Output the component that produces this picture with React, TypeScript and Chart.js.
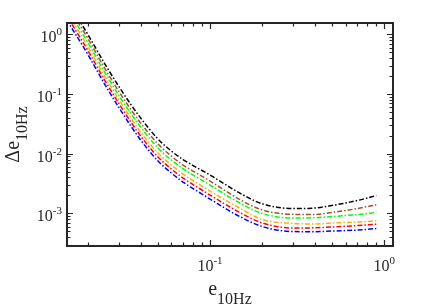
import React, { useEffect, useRef } from "react";
import { Chart, registerables } from "chart.js";

Chart.register(...registerables);

// e_10Hz sample positions
const xValues = [0.015, 0.02, 0.025, 0.03, 0.035, 0.04, 0.05, 0.06, 0.07, 0.08, 0.1, 0.15, 0.2, 0.3, 0.4, 0.5, 0.7, 0.9];

// Δe_10Hz values of each curve
const blackSeries = [3.827, 0.9734, 0.3144, 0.1336, 0.068, 0.03963, 0.01797, 0.0111, 0.007995, 0.006343, 0.004398, 0.002147, 0.001448, 0.001208, 0.001232, 0.001356, 0.001645, 0.001994];
const brownSeries = [3.28, 0.8343, 0.2643, 0.1101, 0.05606, 0.03267, 0.01483, 0.009152, 0.006467, 0.005131, 0.003489, 0.001677, 0.00114, 0.000966, 0.000958, 0.001035, 0.001208, 0.001398];
const greenSeries = [2.811, 0.715, 0.2265, 0.09438, 0.04805, 0.028, 0.0127, 0.00784, 0.00565, 0.004398, 0.00299, 0.001465, 0.000996, 0.000838, 0.000847, 0.000887, 0.000958, 0.001035];
const orangeSeries = [2.41, 0.6128, 0.1941, 0.08088, 0.0404, 0.0231, 0.01047, 0.006467, 0.004571, 0.003557, 0.002372, 0.001203, 0.00079, 0.000683, 0.000664, 0.000691, 0.000718, 0.000752];
const redSeries = [2.065, 0.5252, 0.1664, 0.06932, 0.03462, 0.01979, 0.008977, 0.005542, 0.003917, 0.003048, 0.002033, 0.001016, 0.000691, 0.000569, 0.000576, 0.000592, 0.000627, 0.000659];
const blueSeries = [1.769, 0.4501, 0.1426, 0.05942, 0.02967, 0.01696, 0.007693, 0.00475, 0.003357, 0.002613, 0.001742, 0.00087, 0.000603, 0.000497, 0.000494, 0.000507, 0.000527, 0.000559];

const seriesList = [blueSeries, redSeries, orangeSeries, greenSeries, brownSeries, blackSeries];
const seriesColors = ["#0000ff", "#ff0000", "#edb120", "#00ff00", "#a0522d", "#000000"];

// axis tick labels (10^exp)
const xMajorTicks = [0.1, 1];
const xTickExponents = ["-1", "0"];
const yMajorTicks = [0.001, 0.01, 0.1, 1];
const yTickExponents = ["-3", "-2", "-1", "0"];

const xTitleMain = "e";
const xTitleSub = "10Hz";
const yTitleMain = "Δe";
const yTitleSub = "10Hz";

const X_MIN = 0.01512;
const X_MAX = 1.122;
const Y_MIN = 2.85e-4;
const Y_MAX = 1.546;

const TEXT_COLOR = "#262626";
const FONT = "'Liberation Serif', 'Times New Roman', serif";

function minorValues(min: number, max: number): number[] {
  const out: number[] = [];
  const start = Math.floor(Math.log10(min)) - 1;
  const end = Math.ceil(Math.log10(max)) + 1;
  for (let e = start; e <= end; e++) {
    for (let k = 2; k <= 9; k++) {
      const v = k * Math.pow(10, e);
      if (v > min && v < max) out.push(v);
    }
  }
  return out;
}

const framePlugin = {
  id: "matlabFrame",
  afterDraw(chart: any) {
    const ctx: CanvasRenderingContext2D = chart.ctx;
    const { left, right, top, bottom } = chart.chartArea;
    const xs = chart.scales.x;
    const ys = chart.scales.y;
    ctx.save();
    ctx.strokeStyle = TEXT_COLOR;
    ctx.lineWidth = 1.2;
    const majorLen = 6;
    const minorLen = 3.5;
    ctx.beginPath();
    xMajorTicks.forEach((v) => {
      const p = Math.round(xs.getPixelForValue(v)) + 0.5;
      ctx.moveTo(p, bottom); ctx.lineTo(p, bottom - majorLen);
      ctx.moveTo(p, top); ctx.lineTo(p, top + majorLen);
    });
    minorValues(X_MIN, X_MAX).forEach((v) => {
      const p = Math.round(xs.getPixelForValue(v)) + 0.5;
      ctx.moveTo(p, bottom); ctx.lineTo(p, bottom - minorLen);
      ctx.moveTo(p, top); ctx.lineTo(p, top + minorLen);
    });
    yMajorTicks.forEach((v) => {
      const p = Math.round(ys.getPixelForValue(v)) + 0.5;
      ctx.moveTo(left, p); ctx.lineTo(left + majorLen, p);
      ctx.moveTo(right, p); ctx.lineTo(right - majorLen, p);
    });
    minorValues(Y_MIN, Y_MAX).forEach((v) => {
      const p = Math.round(ys.getPixelForValue(v)) + 0.5;
      ctx.moveTo(left, p); ctx.lineTo(left + minorLen, p);
      ctx.moveTo(right, p); ctx.lineTo(right - minorLen, p);
    });
    ctx.stroke();
    ctx.lineWidth = 2;
    ctx.strokeRect(left, top, right - left, bottom - top);

    ctx.fillStyle = TEXT_COLOR;
    ctx.textBaseline = "alphabetic";
    ctx.textAlign = "left";
    const baseFont = `16px ${FONT}`;
    const supFont = `11px ${FONT}`;
    xMajorTicks.forEach((v, i) => {
      const p = xs.getPixelForValue(v);
      ctx.font = baseFont;
      const w1 = ctx.measureText("10").width;
      ctx.font = supFont;
      const w2 = ctx.measureText(xTickExponents[i]).width;
      const x0 = p - (w1 + w2) / 2;
      const base = 271;
      ctx.font = baseFont;
      ctx.fillText("10", x0, base);
      ctx.font = supFont;
      ctx.fillText(xTickExponents[i], x0 + w1, base - 7);
    });
    yMajorTicks.forEach((v, i) => {
      const p = ys.getPixelForValue(v);
      ctx.font = baseFont;
      const w1 = ctx.measureText("10").width;
      ctx.font = supFont;
      const w2 = ctx.measureText(yTickExponents[i]).width;
      const xEnd = left - 5;
      const x0 = xEnd - w1 - w2;
      const base = p + 8;
      ctx.font = baseFont;
      ctx.fillText("10", x0, base);
      ctx.font = supFont;
      ctx.fillText(yTickExponents[i], x0 + w1, base - 7);
    });

    const mainFont = `20px ${FONT}`;
    const subFont = `16px ${FONT}`;
    ctx.font = mainFont;
    const xm = ctx.measureText(xTitleMain).width;
    ctx.font = subFont;
    const xsw = ctx.measureText(xTitleSub).width;
    const cx = (left + right) / 2;
    const tx0 = cx - (xm + xsw) / 2;
    ctx.font = mainFont;
    ctx.fillText(xTitleMain, tx0, 295);
    ctx.font = subFont;
    ctx.fillText(xTitleSub, tx0 + xm, 304);
    ctx.font = mainFont;
    const ym = ctx.measureText(yTitleMain).width;
    ctx.font = subFont;
    const ysw = ctx.measureText(yTitleSub).width;
    const cy = (top + bottom) / 2;
    ctx.translate(19, cy);
    ctx.rotate(-Math.PI / 2);
    const ty0 = -(ym + ysw) / 2;
    ctx.font = mainFont;
    ctx.fillText(yTitleMain, ty0, 0);
    ctx.font = subFont;
    ctx.fillText(yTitleSub, ty0 + ym, 8);
    ctx.restore();
  },
};

export default function App() {
  const canvasRef = useRef<HTMLCanvasElement | null>(null);

  useEffect(() => {
    const canvas = canvasRef.current;
    if (!canvas) return;
    const chart = new Chart(canvas, {
      type: "line",
      data: {
        labels: xValues,
        datasets: seriesList.map((s, i) => ({
          data: s.map((y, j) => ({ x: xValues[j], y })),
          borderColor: seriesColors[i],
          backgroundColor: seriesColors[i],
          borderWidth: 1.5,
          borderDash: [5, 2, 1.5, 2],
          pointRadius: 0,
          fill: false,
          cubicInterpolationMode: "monotone" as const,
        })),
      },
      options: {
        animation: false,
        responsive: false,
        devicePixelRatio: 1,
        layout: { padding: { top: 23, right: 43, left: 0, bottom: 0 } },
        plugins: { legend: { display: false }, tooltip: { enabled: false } },
        scales: {
          x: {
            type: "logarithmic",
            min: X_MIN,
            max: X_MAX,
            ticks: { display: false },
            grid: { display: false },
            border: { display: false },
            afterFit: (s: any) => { s.height = 62; },
          },
          y: {
            type: "logarithmic",
            min: Y_MIN,
            max: Y_MAX,
            ticks: { display: false },
            grid: { display: false },
            border: { display: false },
            afterFit: (s: any) => { s.width = 67; },
          },
        },
      },
      plugins: [framePlugin],
    });
    return () => chart.destroy();
  }, []);

  return (
    <div style={{ position: "fixed", left: 0, top: 0, width: 436, height: 308, background: "#fff" }}>
      <canvas ref={canvasRef} width={436} height={308} style={{ width: 436, height: 308 }} />
    </div>
  );
}
